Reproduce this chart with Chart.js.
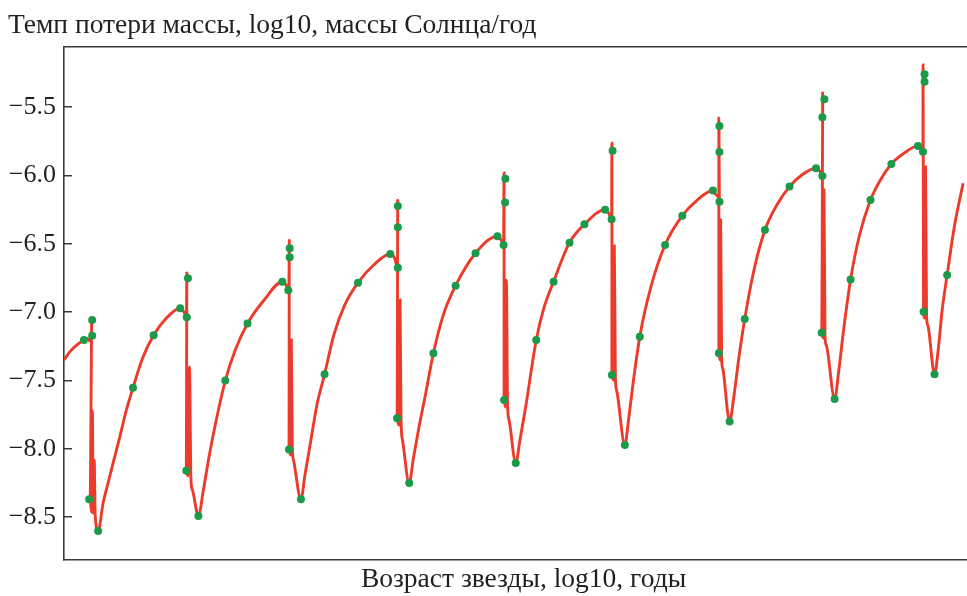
<!DOCTYPE html>
<html>
<head>
<meta charset="utf-8">
<script src="https://cdn.jsdelivr.net/npm/chart.js@4/dist/chart.umd.min.js"></script>
<style>
  html, body { margin: 0; padding: 0; background: #ffffff; overflow: hidden; }
  #frame { width: 967px; height: 596px; overflow: hidden; position: relative; }
  canvas { display: block; }
</style>
</head>
<body>
<div id="frame"><canvas id="chart" width="987" height="596"></canvas></div>
<script>
// Model track: stellar age (relative units, log scale) vs. log10 mass-loss rate.
const lineAge = [
  0.00, 0.60, 1.30, 2.00, 2.35, 2.60, 2.75, 2.78, 2.62, 2.78, 2.85, 2.93, 3.03, 3.13, 3.43,
  3.93, 4.43, 4.93, 5.60, 6.27, 6.93, 7.90, 9.00, 10.27, 11.67, 12.10, 12.30,
  12.34, 12.28, 12.45, 12.60, 12.75, 12.90, 13.50,
  14.00, 14.60, 15.40, 16.20, 17.20, 18.43, 20.10, 21.93, 22.30, 22.55,
  22.63, 22.60, 22.75, 22.83, 22.93, 23.05, 23.80,
  24.20, 24.80, 25.40, 26.17, 27.10, 28.20, 29.53, 31.10, 32.77, 33.20, 33.50,
  33.52, 33.45, 33.63, 33.75, 33.85, 34.00, 34.67,
  35.10, 35.60, 36.30, 37.10, 38.10, 39.33, 41.33, 43.53, 43.90, 44.15,
  44.20, 44.20, 44.35, 44.43, 44.55, 44.70, 45.37,
  45.80, 46.40, 47.43, 48.20, 49.17, 50.77, 52.27, 54.35, 54.70, 55.00,
  55.03, 55.03, 55.18, 55.27, 55.38, 55.50, 56.33,
  56.70, 57.20, 57.83, 59.00, 60.37, 62.10, 63.60, 65.18, 65.50, 65.83,
  65.77, 65.77, 65.90, 65.95, 66.05, 66.15, 66.85,
  67.30, 67.75, 68.37, 69.30, 70.40, 71.60, 72.87, 74.10, 75.53, 75.90, 76.17,
  76.20, 76.10, 76.25, 76.33, 76.43, 76.55, 77.40,
  77.80, 78.30, 79.00, 79.90, 81.00, 82.00, 83.10, 84.40, 85.77, 86.05, 86.27,
  86.28, 86.33, 86.45, 86.53, 86.63, 86.75, 87.43,
  87.80, 88.20, 88.70, 89.40, 90.30
];
const lineRate = [
  -7.350, -7.289, -7.240, -7.204, -7.193, -7.211, -7.211, -7.033, -8.375, -8.463, -7.723, -8.470, -8.082, -8.477, -8.602,
  -8.397, -8.250, -8.104, -7.914, -7.716, -7.553, -7.335, -7.169, -7.045, -6.971, -7.006, -7.037,
  -6.704, -8.160, -8.199, -7.401, -8.228, -8.302, -8.492,
  -8.302, -8.045, -7.753, -7.501, -7.277, -7.083, -6.911, -6.777, -6.801, -6.840,
  -6.466, -8.005, -8.045, -7.204, -7.987, -8.082, -8.370,
  -8.192, -7.936, -7.679, -7.455, -7.167, -6.947, -6.784, -6.655, -6.574, -6.603, -6.674,
  -6.174, -7.777, -7.826, -6.911, -7.789, -7.936, -8.250,
  -8.067, -7.862, -7.606, -7.301, -7.020, -6.806, -6.569, -6.444, -6.471, -6.508,
  -5.981, -7.643, -7.694, -6.764, -7.679, -7.789, -8.104,
  -7.936, -7.679, -7.204, -6.969, -6.777, -6.491, -6.357, -6.250, -6.274, -6.320,
  -5.764, -7.460, -7.496, -6.515, -7.482, -7.570, -7.972,
  -7.789, -7.496, -7.179, -6.801, -6.508, -6.294, -6.179, -6.109, -6.142, -6.191,
  -5.581, -7.301, -7.350, -6.325, -7.335, -7.408, -7.800,
  -7.606, -7.350, -7.050, -6.691, -6.398, -6.215, -6.081, -5.996, -5.947, -5.966, -6.003,
  -5.386, -7.150, -7.189, -6.105, -7.174, -7.240, -7.635,
  -7.438, -7.130, -6.761, -6.435, -6.179, -6.032, -5.915, -5.835, -5.783, -5.798, -5.825,
  -5.190, -6.996, -7.043, -5.937, -7.028, -7.094, -7.455,
  -7.277, -6.984, -6.728, -6.384, -6.056
];

// Computed model steps shown as markers
const stepAge = [
  2.00, 2.83, 2.83, 2.53, 3.43,
  6.93, 9.00, 11.67, 12.33, 12.45, 12.28, 13.50,
  16.20, 18.43, 21.93, 22.53, 22.67, 22.67, 22.60, 23.80,
  26.17, 29.53, 32.77, 33.53, 33.53, 33.53, 33.45, 34.67,
  37.10, 39.33, 41.33, 43.53, 44.15, 44.33, 44.30, 44.20, 45.37,
  47.43, 49.17, 50.77, 52.27, 54.35, 55.00, 55.10, 55.03, 56.33,
  57.83, 60.37, 62.10, 65.18, 65.83, 65.83, 65.83, 65.77, 66.85,
  68.37, 70.40, 72.87, 75.53, 76.17, 76.37, 76.17, 76.10, 77.40,
  79.00, 81.00, 83.10, 85.77, 86.27, 86.43, 86.43, 86.33, 87.43,
  88.70
];
const stepRate = [
  -7.204, -7.057, -7.172, -8.370, -8.602,
  -7.553, -7.169, -6.971, -7.037, -6.752, -8.160, -8.492,
  -7.501, -7.083, -6.777, -6.840, -6.532, -6.598, -8.005, -8.370,
  -7.455, -6.784, -6.574, -6.674, -6.223, -6.378, -7.777, -8.250,
  -7.301, -6.806, -6.569, -6.444, -6.508, -6.023, -6.198, -7.643, -8.104,
  -7.204, -6.777, -6.491, -6.357, -6.250, -6.320, -5.818, -7.460, -7.972,
  -7.179, -6.508, -6.294, -6.109, -6.191, -5.637, -5.827, -7.301, -7.800,
  -7.050, -6.398, -6.081, -5.947, -6.003, -5.441, -5.573, -7.150, -7.635,
  -6.761, -6.179, -5.915, -5.783, -5.825, -5.258, -5.313, -6.996, -7.455,
  -6.728
];

const yTickValues = [-8.5, -8.0, -7.5, -7.0, -6.5, -6.0, -5.5];
const yTickLabels = ['−8.5', '−8.0', '−7.5', '−7.0', '−6.5', '−6.0', '−5.5'];

const titleText = 'Темп потери массы, log10, массы Солнца/год';
const xTitleText = 'Возраст звезды, log10, годы';

const SERIF = "'Liberation Serif', 'Times New Roman', serif";
const INK = '#231f20';
const AXIS = '#3a3a3a';

const linePoints = lineAge.map((a, i) => ({ x: a, y: lineRate[i] }));
const stepPoints = stepAge.map((a, i) => ({ x: a, y: stepRate[i] }));

new Chart(document.getElementById('chart'), {
  type: 'line',
  data: {
    datasets: [
      {
        label: 'steps',
        data: stepPoints,
        showLine: false,
        pointRadius: 4,
        pointHoverRadius: 4,
        pointBackgroundColor: '#1c9a4a',
        pointBorderColor: '#1c9a4a',
        pointBorderWidth: 0,
        order: 0
      },
      {
        label: 'track',
        data: linePoints,
        borderColor: '#ec3b2b',
        borderWidth: 2.9,
        pointRadius: 0,
        cubicInterpolationMode: 'monotone',
        fill: false,
        order: 1
      }
    ]
  },
  options: {
    responsive: false,
    animation: false,
    events: [],
    layout: { padding: { left: 8, top: 0, right: 0, bottom: 0 } },
    plugins: {
      legend: { display: false },
      tooltip: { enabled: false },
      title: {
        display: true,
        text: titleText,
        align: 'start',
        color: INK,
        font: { family: SERIF, size: 27.5, weight: 'normal', lineHeight: 1.2 },
        padding: { top: 9, bottom: 5 }
      }
    },
    scales: {
      x: {
        type: 'linear',
        position: 'bottom',
        min: 0,
        max: 92.3,
        ticks: { display: false },
        grid: { display: false, drawTicks: false },
        border: { display: true, color: AXIS, width: 1.6 },
        title: {
          display: true,
          text: xTitleText,
          color: INK,
          font: { family: SERIF, size: 27.5, weight: 'normal', lineHeight: 1.2 },
          padding: { top: 0, bottom: 0 }
        },
        afterFit: (s) => { s.height = 36; }
      },
      x2: {
        type: 'linear',
        position: 'top',
        min: 0,
        max: 92.3,
        ticks: { display: false },
        grid: { display: false, drawTicks: false },
        border: { display: true, color: AXIS, width: 1.6 },
        afterFit: (s) => { s.height = 0; }
      },
      y: {
        type: 'linear',
        position: 'left',
        min: -8.814,
        max: -5.059,
        afterBuildTicks: (s) => { s.ticks = yTickValues.map(v => ({ value: v })); },
        ticks: {
          color: INK,
          font: { family: SERIF, size: 26 },
          padding: 16,
          callback: (value) => {
            const i = yTickValues.findIndex(v => Math.abs(v - value) < 1e-6);
            return i >= 0 ? yTickLabels[i] : '';
          }
        },
        grid: {
          display: true,
          drawOnChartArea: false,
          drawTicks: true,
          tickLength: -8,
          color: AXIS,
          lineWidth: 1.5
        },
        border: { display: true, color: AXIS, width: 1.6 },
        afterFit: (s) => { s.width = 56; }
      }
    }
  }
});
</script>
</body>
</html>
